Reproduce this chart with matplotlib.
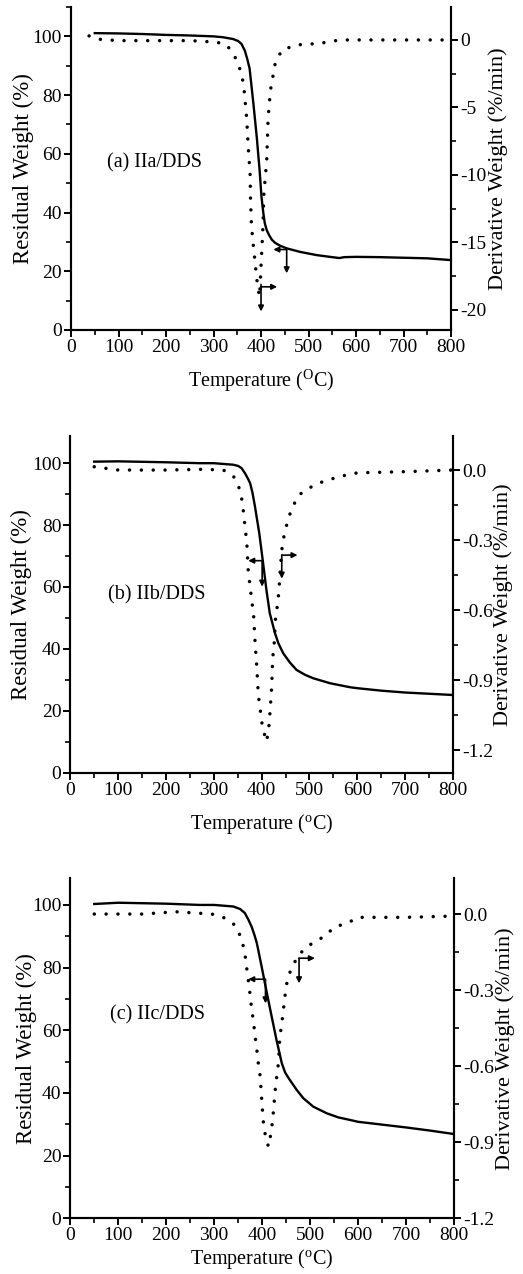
import matplotlib
matplotlib.use('Agg')
import matplotlib.pyplot as plt
from matplotlib.ticker import MultipleLocator

plt.rcParams['font.family'] = ['Liberation Serif', 'DejaVu Serif']
plt.rcParams['mathtext.fontset'] = 'custom'
plt.rcParams['mathtext.rm'] = 'Liberation Serif'
plt.rcParams['mathtext.it'] = 'Liberation Serif:italic'
plt.rcParams['axes.unicode_minus'] = False

# (a) IIa/DDS
tga_a_t = [50, 100, 150, 200, 250, 300, 320, 341, 352, 359, 366, 371, 376, 384, 391, 397, 401, 405, 408, 412, 417, 422.5, 429.5, 440, 454, 482, 517, 545, 565, 575, 600, 650, 700, 750, 800]
tga_a_w = [101.1, 101.0, 100.8, 100.5, 100.3, 100.0, 99.7, 99.1, 98.4, 97.4, 95.1, 92.3, 89.0, 77.0, 65.7, 54.4, 45.3, 39.6, 36.3, 34.0, 32.3, 30.8, 29.7, 28.7, 27.8, 26.6, 25.5, 24.9, 24.5, 24.8, 24.9, 24.8, 24.6, 24.4, 23.8]
dtg_a_t = [38, 60, 100, 150, 200, 250, 286, 310, 328, 345, 356, 363, 366, 370, 373, 377, 378, 380, 384, 389, 393, 397, 401, 403.5, 406, 412, 415, 420, 430, 444, 475, 524, 566, 600, 700, 800]
dtg_a_d = [0.3, 0.05, -0.05, -0.05, -0.05, -0.05, -0.12, -0.2, -0.37, -1.24, -2.2, -3.2, -4.3, -5.9, -7.9, -9.9, -12.0, -13.8, -15.3, -17.0, -18.3, -19.0, -16.0, -14.3, -11.4, -8.9, -5.7, -3.7, -1.7, -0.74, -0.37, -0.25, 0.0, 0.0, 0.0, 0.0]

# (b) IIb/DDS
tga_b_t = [50, 100, 200, 271, 300, 341, 351, 358, 365, 371, 376, 381, 386, 395, 403, 410, 417, 428, 435, 445, 459, 473, 491, 508, 543, 585, 600, 650, 700, 750, 800]
tga_b_w = [100.5, 100.6, 100.3, 100.0, 100.0, 99.5, 99.1, 98.4, 96.8, 95.1, 93.5, 90.3, 86.0, 77.4, 67.7, 59.0, 51.5, 45.0, 41.8, 38.6, 35.6, 33.2, 31.6, 30.5, 28.9, 27.6, 27.3, 26.5, 25.9, 25.5, 25.1]
dtg_b_t = [50, 100, 200, 278, 320, 341, 355, 360, 363, 366, 369, 372, 376, 379, 383, 386, 390, 393, 397, 402, 410.5, 415, 417, 421, 423, 426, 429, 433, 436, 438, 442, 447, 454, 463, 478, 494, 518, 543, 567, 600, 700, 800]
dtg_b_d = [0.014, 0.0, 0.0, 0.003, 0.0, -0.026, -0.086, -0.143, -0.2, -0.257, -0.314, -0.436, -0.5, -0.557, -0.614, -0.729, -0.85, -0.964, -1.026, -1.107, -1.164, -1.102, -1.05, -0.929, -0.807, -0.75, -0.636, -0.579, -0.521, -0.457, -0.343, -0.279, -0.221, -0.164, -0.107, -0.083, -0.057, -0.04, -0.026, -0.012, -0.007, 0.0]

# (c) IIc/DDS
tga_c_t = [50, 100, 200, 270, 300, 340, 354, 364, 371, 378, 384, 389, 399, 410, 420, 430, 441, 448, 458, 472, 486, 507, 535, 559, 583, 600, 650, 700, 750, 800]
tga_c_w = [100.3, 100.7, 100.4, 100.0, 100.0, 99.5, 98.7, 97.4, 95.4, 93.1, 90.4, 87.8, 80.3, 71.8, 64.3, 56.9, 49.5, 46.5, 44.1, 41.0, 38.3, 35.6, 33.5, 32.2, 31.4, 30.8, 29.9, 29.0, 28.0, 26.9]
dtg_c_t = [50, 100, 150, 220, 270, 295, 319, 343, 357, 364, 371, 375, 378, 382, 385, 389, 392, 396, 398, 400, 402, 406, 413, 418.5, 422, 427, 430, 434, 437, 441, 448, 452.5, 462, 479, 503.5, 528, 552, 576.5, 600, 700, 800]
dtg_c_d = [0.0, 0.0, 0.0, 0.009, 0.003, 0.0, -0.013, -0.043, -0.096, -0.155, -0.26, -0.319, -0.372, -0.424, -0.477, -0.536, -0.588, -0.641, -0.7, -0.753, -0.812, -0.865, -0.917, -0.865, -0.812, -0.7, -0.648, -0.588, -0.484, -0.431, -0.319, -0.26, -0.208, -0.155, -0.116, -0.09, -0.05, -0.037, -0.013, -0.013, -0.008]

panels = [
    dict(pos=[0.1358, 0.741, 0.7266, 0.2535], tga=(tga_a_t, tga_a_w), dtg=(dtg_a_t, dtg_a_d),
         ylim=(0, 110), y2lim=(-21.48, 2.44), y2major=5, y2minor=2.5, y2fmt='{:.0f}',
         label='(a) IIa/DDS', lab_xy=(76, 57), xlab=r'Temperature ($^{\rm O}$C)', xlab_y=-0.118,
         y1lab_x=-0.097, y2lab_x=1.097,
         arrows=[((454, 27.4), (426, 27.4)), ((454, 27.4), (454, 19.3)),
                 ((400, 14.7), (434, 14.7)), ((400, 15.5), (400, 6.3))]),
    dict(pos=[0.1344, 0.3935, 0.7318, 0.2643], tga=(tga_b_t, tga_b_w), dtg=(dtg_b_t, dtg_b_d),
         ylim=(0, 108.8), y2lim=(-1.297, 0.146), y2major=0.3, y2minor=0.15, y2fmt='{:.1f}',
         label='(b) IIb/DDS', lab_xy=(78, 57.4), xlab=r'Temperature ($^{\rm o}$C)', xlab_y=-0.116,
         y1lab_x=-0.099, y2lab_x=1.104,
         arrows=[((403, 68.5), (372, 68.5)), ((401, 68.5), (401, 60.1)),
                 ((442, 70.3), (475, 70.3)), ((442, 70.3), (442, 62.7))]),
    dict(pos=[0.1344, 0.0437, 0.7336, 0.2669], tga=(tga_c_t, tga_c_w), dtg=(dtg_c_t, dtg_c_d),
         ylim=(0, 108.5), y2lim=(-1.2, 0.141), y2major=0.3, y2minor=0.15, y2fmt='{:.1f}',
         label='(c) IIc/DDS', lab_xy=(83, 64.9), xlab=r'Temperature ($^{\rm o}$C)', xlab_y=-0.084,
         y1lab_x=-0.088, y2lab_x=1.108,
         arrows=[((406, 76.3), (371, 76.3)), ((407, 76.3), (407, 68.6)),
                 ((477, 83.0), (510, 83.0)), ((477, 83.0), (477, 75.0))]),
]

fig = plt.figure(figsize=(5.23, 12.74), dpi=100)

for p in panels:
    ax = fig.add_axes(p['pos'])
    ax2 = ax.twinx()

    ax.plot(p['tga'][0], p['tga'][1], color='black', lw=1.7, zorder=3)
    ax2.plot(p['dtg'][0], p['dtg'][1], color='black', lw=2.5,
             linestyle=(0, (0.01, 3.4)), dash_capstyle='round')

    ax.set_xlim(0, 800)
    ax.set_ylim(*p['ylim'])
    ax2.set_ylim(*p['y2lim'])

    ax.xaxis.set_major_locator(MultipleLocator(100))
    ax.xaxis.set_minor_locator(MultipleLocator(50))
    ax.yaxis.set_major_locator(MultipleLocator(20))
    ax.yaxis.set_minor_locator(MultipleLocator(10))
    ax2.yaxis.set_major_locator(MultipleLocator(p['y2major']))
    ax2.yaxis.set_minor_locator(MultipleLocator(p['y2minor']))
    fmt = p['y2fmt']
    ax2.yaxis.set_major_formatter(plt.FuncFormatter(
        lambda v, pos, fmt=fmt: fmt.format(0.0) if abs(v) < 1e-9 else fmt.format(v)))

    for a in (ax, ax2):
        a.spines['top'].set_visible(False)
        for s in a.spines.values():
            s.set_linewidth(1.5)
        a.tick_params(which='major', direction='out', length=5, width=1.4, labelsize=14, pad=1.5)
        a.tick_params(which='minor', direction='out', length=3.5, width=1.2)

    ax.set_xlabel(p['xlab'], fontsize=14.5)
    ax.xaxis.set_label_coords(0.5, p['xlab_y'])
    ax.set_ylabel('Residual Weight (%)', fontsize=16.5)
    ax.yaxis.set_label_coords(p['y1lab_x'], 0.5)
    ax2.set_ylabel('Derivative Weight (%/min)', fontsize=16)
    ax2.yaxis.set_label_coords(p['y2lab_x'], 0.5)

    ax.text(p['lab_xy'][0], p['lab_xy'][1], p['label'], fontsize=14.5, va='center', ha='left')

    for start, end in p['arrows']:
        ax.annotate('', xy=end, xytext=start, zorder=5,
                    arrowprops=dict(arrowstyle='-|>', color='black', lw=1.2,
                                    mutation_scale=8, shrinkA=0, shrinkB=0))

fig.savefig('out.png', dpi=100)
